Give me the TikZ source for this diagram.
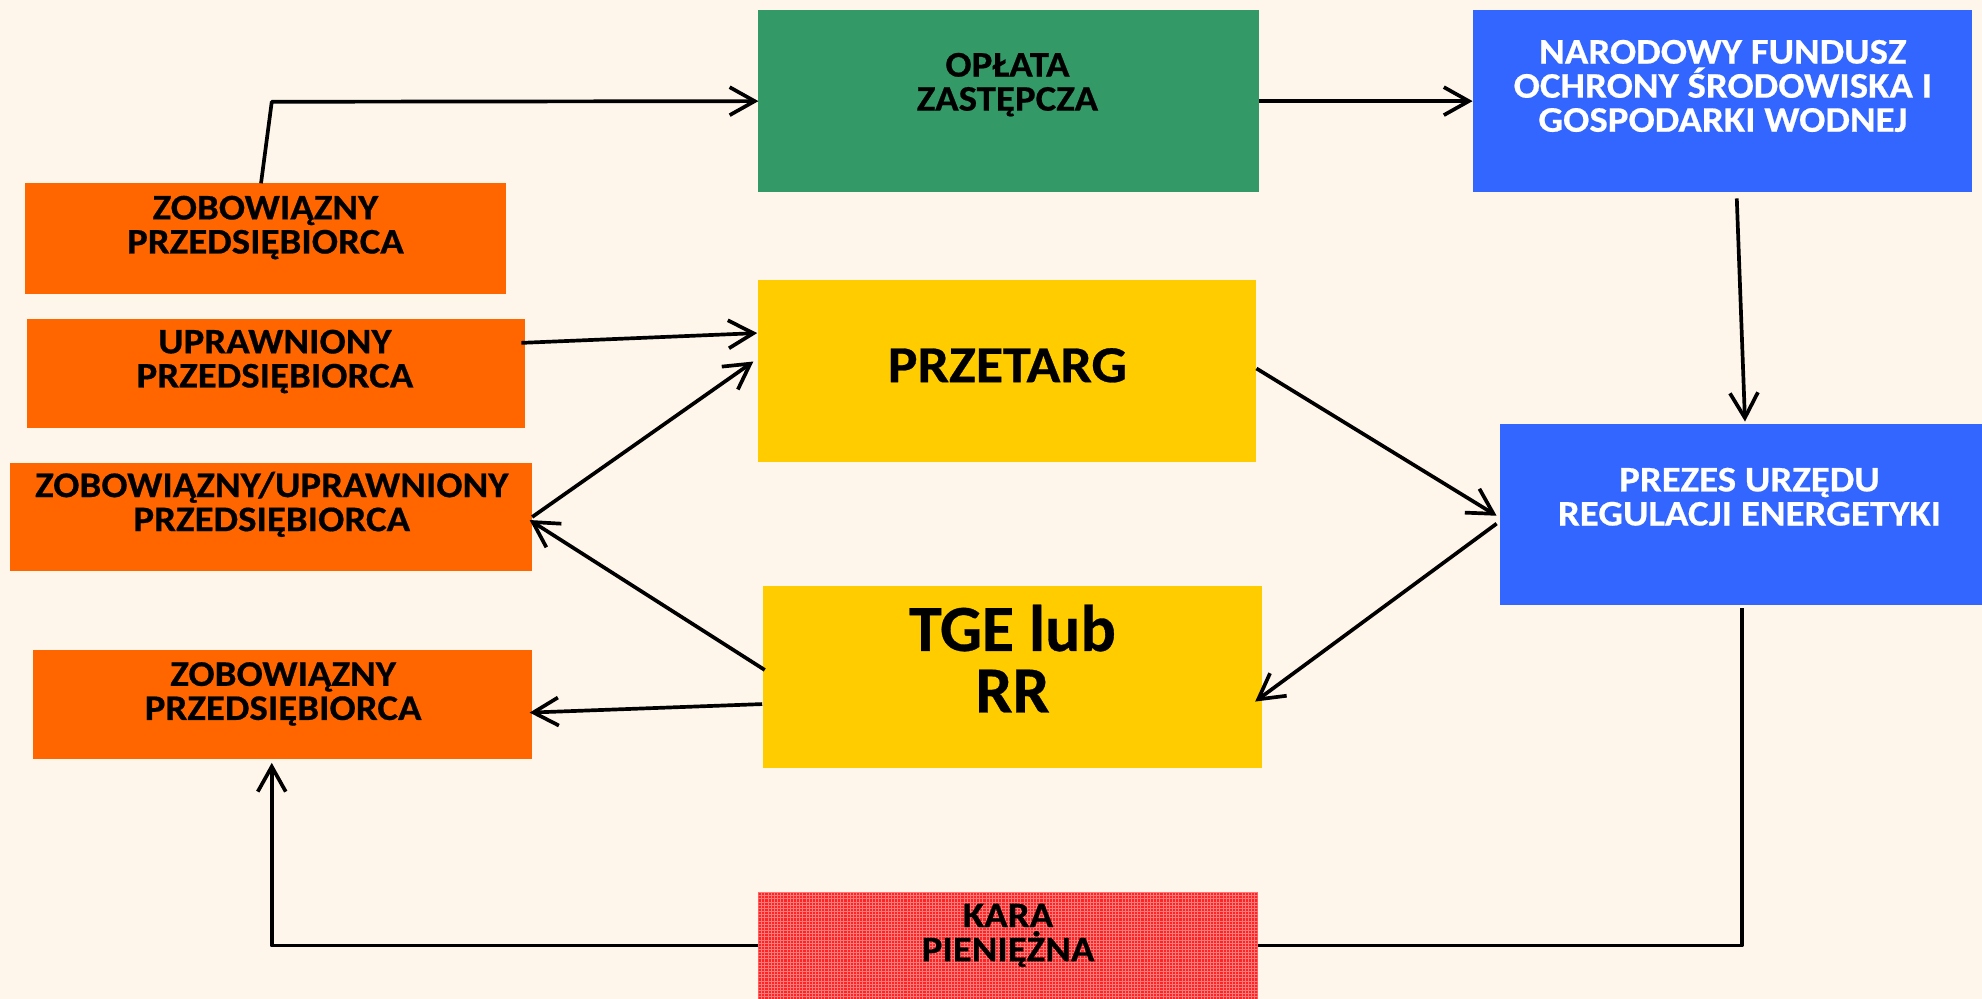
\documentclass[tikz,border=0pt]{standalone}
\usepackage{fontspec}
\setmainfont{Carlito}
\newfontfamily\dfont{Carlito}[FakeStretch=1.08, FakeBold=0.5]
\newfontfamily\efont{Carlito}[FakeBold=0.5]
\usetikzlibrary{arrows.meta,calc}
\definecolor{bg}{HTML}{FEF6EA}
\definecolor{cgreen}{HTML}{339966}
\definecolor{cblue}{HTML}{3366FF}
\definecolor{corange}{HTML}{FF6600}
\definecolor{cyellow}{HTML}{FFCC00}
\definecolor{cred}{HTML}{FF2424}
\definecolor{cgrid}{HTML}{FF7A7A}
\def\pxu{0.02528cm}
\tikzset{
  box/.style={inner sep=0pt, outer sep=0pt, draw=none},
  txt/.style={inner sep=0pt, align=center, font=\dfont\bfseries\fontsize{20.5}{19.4}\selectfont},
  bigtxt/.style={inner sep=0pt, align=center, font=\dfont\bfseries\fontsize{29.5}{30}\selectfont},
  hugetxt/.style={inner sep=0pt, align=center, font=\efont\bfseries\fontsize{37.5}{35}\selectfont},
  conn/.style={line width=2.1pt, draw=black, line join=round},
  arr/.style={conn, -{Straight Barb[length=0.5cm, width=0.56cm, line width=2.1pt]}}
}
\begin{document}
\begin{tikzpicture}[x=0.02528cm, y=-0.02528cm]
\fill[bg] (0,0) rectangle (1568,790);
\useasboundingbox (0,0) rectangle (1568,790);

% boxes
\node[box, fill=cgreen, minimum width={396*\pxu}, minimum height={144*\pxu}] (opl) at (798,80) {};
\node[box, fill=cblue, minimum width={395*\pxu}, minimum height={144*\pxu}] (nfo) at (1362.5,80) {};
\node[box, fill=corange, minimum width={380*\pxu}, minimum height={87.5*\pxu}] (zob1) at (210,188.75) {};
\node[box, fill=corange, minimum width={394*\pxu}, minimum height={86.5*\pxu}] (upr) at (218,295.25) {};
\node[box, fill=corange, minimum width={413*\pxu}, minimum height={86*\pxu}] (zu) at (214.5,409) {};
\node[box, fill=corange, minimum width={395*\pxu}, minimum height={86.5*\pxu}] (zob2) at (223.5,557.25) {};
\node[box, fill=cyellow, minimum width={394*\pxu}, minimum height={144*\pxu}] (prz) at (797,293.5) {};
\node[box, fill=cyellow, minimum width={394.5*\pxu}, minimum height={144*\pxu}] (tge) at (801.25,535.5) {};
\node[box, fill=cblue, minimum width={381*\pxu}, minimum height={143.5*\pxu}] (pre) at (1377.5,407.25) {};
\node[box, fill=cred, minimum width={395*\pxu}, minimum height={84*\pxu}] (kar) at (797.5,748) {};
% grid texture of the red box
\begin{scope}
\clip (600,706) rectangle (995,790);
\foreach \gx in {600,602.5,...,996} {\draw[cgrid, line width=0.35pt] (\gx,706) -- (\gx,790);}
\foreach \gy in {706,708.5,...,790} {\draw[cgrid, line width=0.35pt] (600,\gy) -- (995,\gy);}
\end{scope}

% texts
\node[txt] (toplt) at (797,67) {OPŁATA\\ZASTĘPCZA};
\node[txt, text=white] (tnfo) at (1363,68) {NARODOWY FUNDUSZ\\OCHRONY ŚRODOWISKA I\\GOSPODARKI WODNEJ};
\node[txt] (tzob1) at (210,180) {ZOBOWIĄZNY\\PRZEDSIĘBIORCA};
\node[txt] (tupr) at (217.5,286) {UPRAWNIONY\\PRZEDSIĘBIORCA};
\node[txt] (tzu) at (215,399) {ZOBOWIĄZNY/UPRAWNIONY\\PRZEDSIĘBIORCA};
\node[txt] (tzob2) at (224,549) {ZOBOWIĄZNY\\PRZEDSIĘBIORCA};
\node[bigtxt] (tprz) at (797,289) {PRZETARG};
\node[hugetxt] (ttge) at (801,521) {TGE lub\\RR};
\node[txt, text=white] (tpre) at (1384,393) {PREZES URZĘDU\\REGULACJI ENERGETYKI};
\node[txt] (tkar) at (797.5,740) {KARA\\PIENIĘŻNA};

% connectors
\coordinate (abend) at (215,80.5);
\draw[arr] ($(zob1.north)+(-3.5,0)$) -- (abend) -- (opl.west);
\draw[arr] (opl.east) -- (nfo.west);
\draw[arr] ($(nfo.south)+(11.5,5)$) -- ($(pre.north)+(3,-2)$);
\draw[arr] ($(upr.east)+(-2.5,-24)$) -- ($(prz.west)+(-1,-30)$);
\draw[arr] (zu.east) -- ($(prz.west)+(-4,-7.5)$);
\draw[arr] ($(prz.east)+(0,-2)$) -- ($(pre.west)+(-3,0.75)$);
\draw[arr] ($(pre.west)+(-3,7)$) -- ($(tge.east)+(-5.5,19.5)$);
\draw[arr] ($(tge.west)+(1,-5.5)$) -- ($(zu.east)+(-2,2.4)$);
\draw[arr] ($(tge.west)+(-1,21.5)$) -- ($(zob2.east)+(-2,6.5)$);
\draw[arr] (kar.west) -| ($(zob2.south)+(-8.5,3)$);
\draw[conn] ($(pre.south)+(0.5,2)$) |- (kar.east);
\end{tikzpicture}
\end{document}
